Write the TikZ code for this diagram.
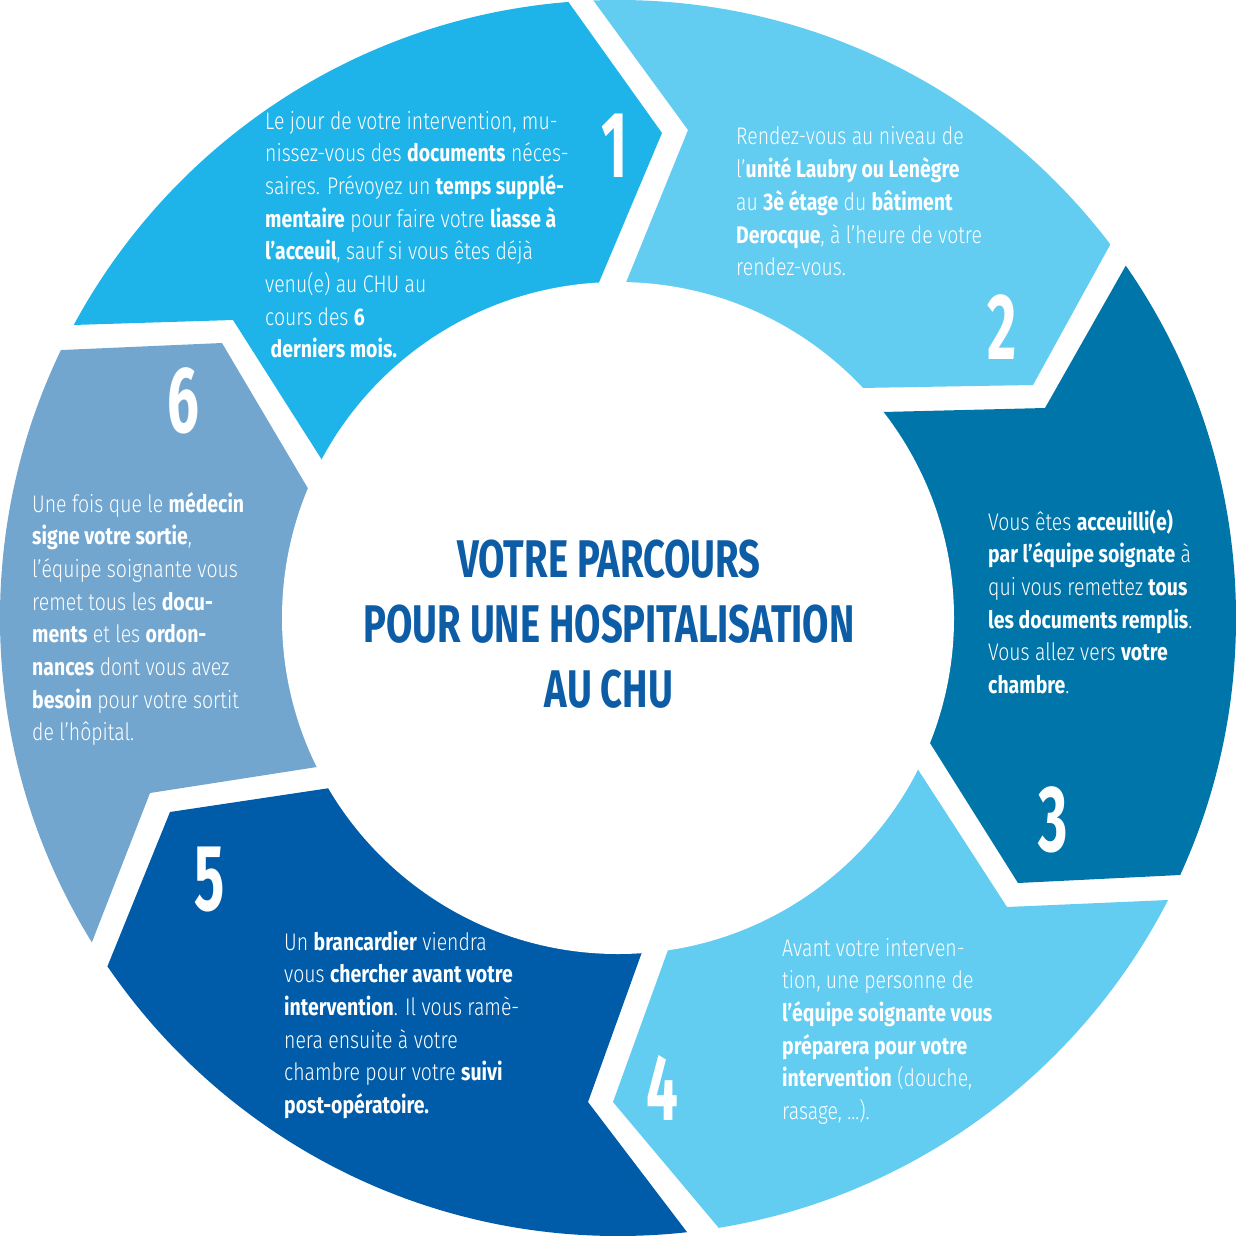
\documentclass[tikz,border=0pt]{standalone}
\usepackage{fontspec}
\setmainfont{Fira Sans}[UprightFont={* Light}, BoldFont={* Bold}, FakeStretch=0.81]
\newfontfamily\titlefont{Fira Sans}[UprightFont={* Bold}, FakeStretch=0.72]
\newfontfamily\numfont{Fira Sans}[UprightFont={* Bold}, FakeStretch=0.6]
\usetikzlibrary{calc}
\definecolor{cA}{HTML}{1EB4E9}
\definecolor{cB}{HTML}{62CCF1}
\definecolor{cC}{HTML}{0075A9}
\definecolor{cE}{HTML}{005CA8}
\definecolor{cF}{HTML}{72A6CF}
\definecolor{ctitle}{HTML}{0D5CA6}
\newcommand\blk[1]{\vtop{\baselineskip=32.7pt\lineskiplimit=-100pt\lineskip=0pt\relax #1}}
\tikzset{
  blurb/.style={anchor=base west, inner sep=0pt, text=white, font=\fontsize{24}{33}\selectfont},
  numlabel/.style={inner sep=0pt, text=white, font=\numfont\fontsize{94}{94}\selectfont},
  ringpart/.style={fill=#1},
  titletext/.style={anchor=base, inner sep=0pt, text=ctitle, font=\titlefont\fontsize{53}{65}\selectfont},
}
% segment: colour, start boundary, end boundary, far point
\newcommand\ringseg[4]{%
  \path[ringpart=#1] ($(#2N)!5!(#2O)$) -- (#2N) -- ($(#2N)!1.5!(#2I)$) -- (C)
     -- ($(#3a)!1.5!(#3i)$) -- (#3a) -- ($(#3a)!5!(#3o)$) -- #4 -- cycle;}
\begin{document}
\begin{tikzpicture}[x=1pt,y=-1pt]
\useasboundingbox (0,0) rectangle (1236,1236);
\coordinate (C) at (618,618);
% boundary 1-2
\coordinate (b12o) at (567,0);    \coordinate (b12a) at (662,133);  \coordinate (b12i) at (600,280);
\coordinate (b12O) at (593,0);    \coordinate (b12N) at (688,130);  \coordinate (b12I) at (625,285);
% boundary 2-3
\coordinate (b23o) at (1110,245); \coordinate (b23a) at (1033,385); \coordinate (b23i) at (860,388);
\coordinate (b23O) at (1125,267); \coordinate (b23N) at (1045,408); \coordinate (b23I) at (883,412);
% boundary 3-4
\coordinate (b34o) at (1180,875); \coordinate (b34a) at (1018,883); \coordinate (b34i) at (930,743);
\coordinate (b34O) at (1168,900); \coordinate (b34N) at (1007,907); \coordinate (b34I) at (917,768);
% boundary 4-5
\coordinate (b45o) at (718,1227); \coordinate (b45a) at (613,1102); \coordinate (b45i) at (668,950);
\coordinate (b45O) at (690,1236); \coordinate (b45N) at (588,1102); \coordinate (b45I) at (642,952);
% boundary 5-6
\coordinate (b56o) at (110,960);  \coordinate (b56a) at (170,812);  \coordinate (b56i) at (330,788);
\coordinate (b56O) at (92,942);   \coordinate (b56N) at (150,793);  \coordinate (b56I) at (317,767);
% boundary 6-1
\coordinate (b61o) at (62,350);   \coordinate (b61a) at (222,343);  \coordinate (b61i) at (303,480);
\coordinate (b61O) at (73,325);   \coordinate (b61N) at (233,320);  \coordinate (b61I) at (322,460);
\begin{scope}
  \clip (618,618) circle (618pt);
  \ringseg{cA}{b61}{b12}{(-206,-753)}
  \ringseg{cB}{b12}{b23}{(1369,-795)}
  \ringseg{cC}{b23}{b34}{(2212,479)}
  \ringseg{cB}{b34}{b45}{(1394,2017)}
  \ringseg{cE}{b45}{b56}{(-253,1960)}
  \ringseg{cF}{b56}{b61}{(-982,646)}
\end{scope}
\fill[white] (C) circle (336pt);
% title
\node[titletext] (title) at (609,577) {\vtop{\hsize=600pt\baselineskip=65pt\lineskiplimit=-100pt\lineskip=0pt
  \centerline{VOTRE PARCOURS}\centerline{POUR UNE HOSPITALISATION}\centerline{AU CHU}}};
% numbers
\node[numlabel] (n1) at (615,146) {1};
\node[numlabel] (n2) at (1002,327) {2};
\node[numlabel] (n3) at (1053,820) {3};
\node[numlabel] (n4) at (662,1088) {4};
\node[numlabel] (n5) at (210,880) {5};
\node[numlabel] (n6) at (183,401) {6};
% texts
\node[blurb] (t1) at (265,129) {\blk{%
  \hbox{Le jour de votre intervention, mu-}
  \hbox{nissez-vous des \textbf{documents} néces-}
  \hbox{saires. Prévoyez un \textbf{temps supplé-}}
  \hbox{\textbf{mentaire} pour faire votre \textbf{liasse à}}
  \hbox{\textbf{l’acceuil}, sauf si vous êtes déjà}
  \hbox{venu(e) au CHU au}
  \hbox{cours des \textbf{6}}
  \hbox{\ \textbf{derniers mois.}}}};
\node[blurb] (t2) at (736,145) {\blk{%
  \hbox{Rendez-vous au niveau de}
  \hbox{l’\textbf{unité Laubry ou Lenègre}}
  \hbox{au \textbf{3è étage} du \textbf{bâtiment}}
  \hbox{\textbf{Derocque}, à l’heure de votre}
  \hbox{rendez-vous.}}};
\node[blurb] (t3) at (988,530) {\blk{%
  \hbox{Vous êtes \textbf{acceuilli(e)}}
  \hbox{\textbf{par l’équipe soignate} à}
  \hbox{qui vous remettez \textbf{tous}}
  \hbox{\textbf{les documents remplis}.}
  \hbox{Vous allez vers \textbf{votre}}
  \hbox{\textbf{chambre}.}}};
\node[blurb] (t4) at (782,956) {\blk{%
  \hbox{Avant votre interven-}
  \hbox{tion, une personne de}
  \hbox{\textbf{l’équipe soignante vous}}
  \hbox{\textbf{préparera pour votre}}
  \hbox{\textbf{intervention} (douche,}
  \hbox{rasage, ...).}}};
\node[blurb] (t5) at (284,950) {\blk{%
  \hbox{Un \textbf{brancardier} viendra}
  \hbox{vous \textbf{chercher avant votre}}
  \hbox{\textbf{intervention}. Il vous ramè-}
  \hbox{nera ensuite à votre}
  \hbox{chambre pour votre \textbf{suivi}}
  \hbox{\textbf{post-opératoire.}}}};
\node[blurb] (t6) at (32,512) {\blk{%
  \hbox{Une fois que le \textbf{médecin}}
  \hbox{\textbf{signe votre sortie},}
  \hbox{l’équipe soignante vous}
  \hbox{remet tous les \textbf{docu-}}
  \hbox{\textbf{ments} et les \textbf{ordon-}}
  \hbox{\textbf{nances} dont vous avez}
  \hbox{\textbf{besoin} pour votre sortit}
  \hbox{de l’hôpital.}}};
\end{tikzpicture}
\end{document}
